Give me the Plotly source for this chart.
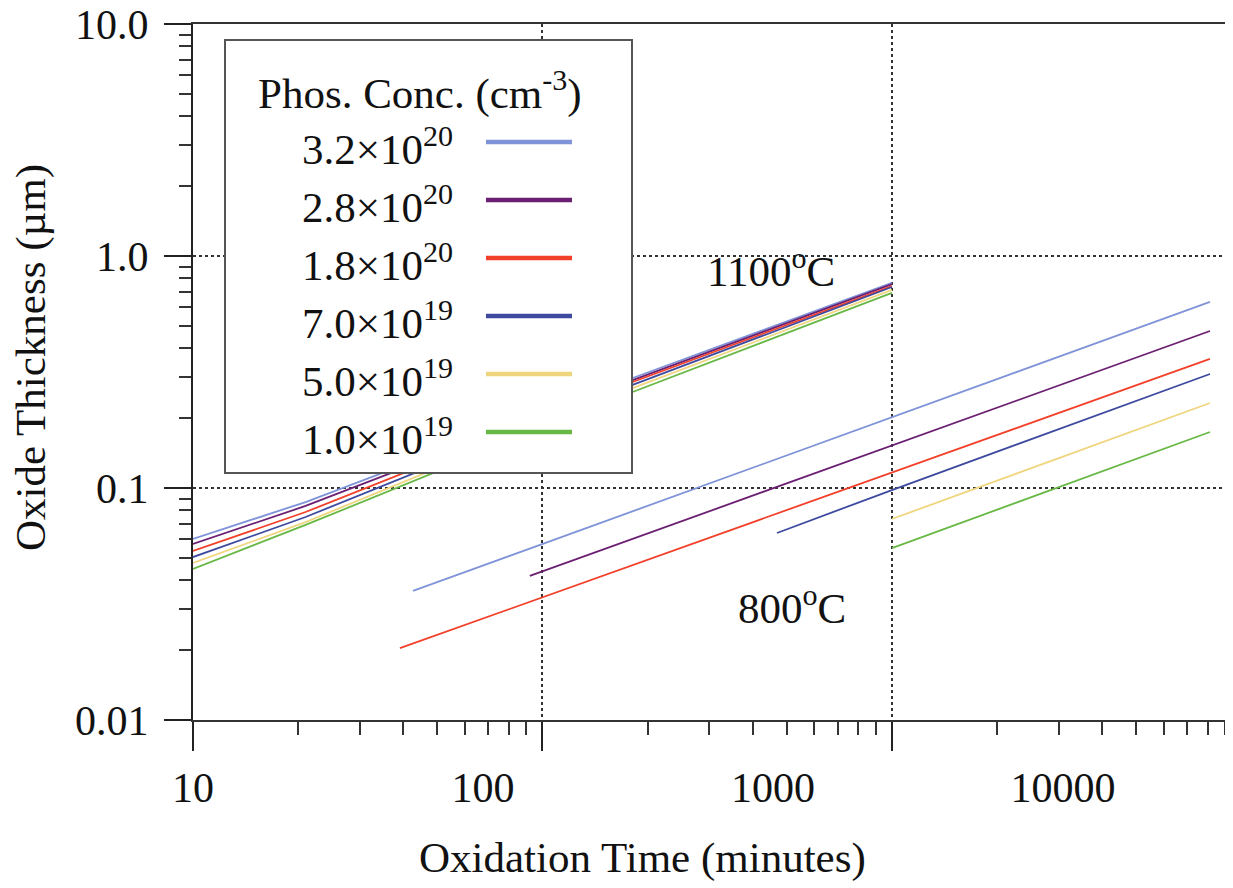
import plotly.graph_objects as go

# ---------------- data ----------------
series_names = ["3.2×10<sup>20</sup>", "2.8×10<sup>20</sup>", "1.8×10<sup>20</sup>",
                "7.0×10<sup>19</sup>", "5.0×10<sup>19</sup>", "1.0×10<sup>19</sup>"]
series_colors = ["#7f93d8", "#6b1f72", "#f2402a", "#3d4a9e", "#efd57e", "#67b845"]

# 1100 C curves (minutes, um)
t_1100 = [10, 21, 178, 1000]
th_1100_a = [0.0603, 0.0870, 0.295, 0.766]
th_1100_b = [0.0574, 0.0837, 0.289, 0.757]
th_1100_c = [0.0535, 0.0788, 0.2835, 0.742]
th_1100_d = [0.0504, 0.0750, 0.2753, 0.735]
th_1100_e = [0.0475, 0.0713, 0.267, 0.714]
th_1100_f = [0.0448, 0.0693, 0.2567, 0.694]

# 800 C curves
t_800_a = [42.6, 1000, 8130]
th_800_a = [0.036, 0.202, 0.634]
t_800_b = [92, 1000, 8130]
th_800_b = [0.0418, 0.152, 0.475]
t_800_c = [39.1, 1000, 8130]
th_800_c = [0.0204, 0.117, 0.360]
t_800_d = [469, 1000, 8130]
th_800_d = [0.064, 0.098, 0.310]
t_800_e = [1000, 3450, 8130]
th_800_e = [0.0735, 0.145, 0.2325]
t_800_f = [1000, 3450, 8130]
th_800_f = [0.0551, 0.109, 0.1743]

x_tick_vals = [10, 100, 1000]
x_label_vals = [10, 100, 1000, 10000]
x_label_text = ["10", "100", "1000", "10000"]
y_tick_vals = [0.01, 0.1, 1, 10]
y_tick_text = ["0.01", "0.1", "1.0", "10.0"]

legend_title = "Phos. Conc. (cm<sup>-3</sup>)"
label_1100 = "1100<sup>o</sup>C"
label_800 = "800<sup>o</sup>C"
x_title = "Oxidation Time (minutes)"
y_title = "Oxide Thickness (µm)"

FONT = "Liberation Serif"
FS = 43
FT = 42

fig = go.Figure()

curves_1100 = [th_1100_a, th_1100_b, th_1100_c, th_1100_d, th_1100_e, th_1100_f]
curves_800 = [(t_800_a, th_800_a), (t_800_b, th_800_b), (t_800_c, th_800_c),
              (t_800_d, th_800_d), (t_800_e, th_800_e), (t_800_f, th_800_f)]

for i in range(6):
    fig.add_trace(go.Scatter(x=t_1100, y=curves_1100[i], mode="lines",
                             line=dict(color=series_colors[i], width=1.8),
                             showlegend=False))
for i in range(6):
    tx, ty = curves_800[i]
    fig.add_trace(go.Scatter(x=tx, y=ty, mode="lines",
                             line=dict(color=series_colors[i], width=1.8),
                             showlegend=False))

# empty trace for the label axis
fig.add_trace(go.Scatter(x=[], y=[], xaxis="x2", showlegend=False))

minor_x = [k * 10 ** e for e in range(1, 4) for k in range(2, 10)]
minor_y = [k * 10 ** e for e in range(-2, 1) for k in range(2, 10)]

# the page body adds an 8 px offset; size the figure so the plot area lands
# at 193..1233 x 24..720 in the window
fig.update_layout(
    width=1225, height=880,
    margin=dict(l=185, r=0, t=16, b=168, autoexpand=False),
    paper_bgcolor="white", plot_bgcolor="white",
    font=dict(family=FONT, size=FS, color="#111"),
    showlegend=False,
    xaxis=dict(type="log", range=[1, 3.976], automargin=False,
               tickmode="array", tickvals=x_tick_vals, showticklabels=False,
               ticks="outside", ticklen=29, tickwidth=2, tickcolor="#222",
               minor=dict(tickmode="array", tickvals=minor_x, ticks="outside",
                          ticklen=13, tickwidth=2, tickcolor="#333", showgrid=False),
               showline=True, linecolor="#333", linewidth=2, mirror=True,
               showgrid=True, gridcolor="#333", griddash="dot", gridwidth=1.5,
               zeroline=False),
    xaxis2=dict(type="log", range=[1, 1 + 1040 / 290], overlaying="x", side="bottom",
                anchor="y", tickmode="array", tickvals=x_label_vals, ticktext=x_label_text,
                ticks="", showline=False, showgrid=False, zeroline=False, automargin=False,
                ticklabelstandoff=39, ticklabeloverflow="allow",
                tickfont=dict(family=FONT, size=FT, color="#111")),
    yaxis=dict(type="log", range=[-2, 1], automargin=False,
               tickmode="array", tickvals=y_tick_vals, ticktext=y_tick_text,
               ticks="outside", ticklen=27, tickwidth=2, tickcolor="#222",
               minor=dict(tickmode="array", tickvals=minor_y, ticks="outside",
                          ticklen=12, tickwidth=2, tickcolor="#333", showgrid=False),
               showline=True, linecolor="#222", linewidth=2,
               showgrid=True, gridcolor="#333", griddash="dot", gridwidth=1.5,
               zeroline=False, ticklabelstandoff=7, ticklabeloverflow="allow",
               tickfont=dict(family=FONT, size=FT, color="#111")),
)

# legend box drawn manually (text left, sample line right)
shapes = [dict(type="rect", xref="paper", yref="paper",
               x0=(225 - 193) / 1040, x1=(632 - 193) / 1040,
               y0=(720 - 473) / 696, y1=(720 - 40) / 696,
               fillcolor="white", line=dict(color="#555", width=2), layer="above")]
annotations = [dict(text=legend_title, xref="paper", yref="paper",
                    x=(420 - 193) / 1040, y=(720 - 90) / 696,
                    showarrow=False, xanchor="center", yanchor="middle",
                    font=dict(family=FONT, size=FS, color="#111"))]
for i in range(6):
    yc = 142 + 58 * i
    shapes.append(dict(type="line", xref="paper", yref="paper",
                       x0=(486 - 193) / 1040, x1=(572 - 193) / 1040,
                       y0=(720 - yc) / 696, y1=(720 - yc) / 696,
                       line=dict(color=series_colors[i], width=4.5), layer="above"))
    annotations.append(dict(text=series_names[i], xref="paper", yref="paper",
                            x=(300 - 193) / 1040, y=(720 - yc - 4) / 696,
                            showarrow=False, xanchor="left", yanchor="middle",
                            font=dict(family=FONT, size=FS, color="#111")))

annotations += [
    dict(text=label_1100, x=2.654, y=-0.052, xref="x", yref="y", showarrow=False,
         font=dict(family=FONT, size=FS, color="#111")),
    dict(text=label_800, x=2.714, y=-1.504, xref="x", yref="y", showarrow=False,
         font=dict(family=FONT, size=FS, color="#111")),
    dict(text=x_title, xref="paper", yref="paper", x=(642 - 193) / 1040,
         y=(720 - 858) / 696, showarrow=False, xanchor="center", yanchor="middle",
         font=dict(family=FONT, size=FS, color="#111")),
    dict(text=y_title, xref="paper", yref="paper", x=(31 - 193) / 1040,
         y=(720 - 358) / 696, showarrow=False, xanchor="center", yanchor="middle",
         textangle=-90, font=dict(family=FONT, size=FS, color="#111")),
]

fig.update_layout(shapes=shapes, annotations=annotations)
fig.write_html("out.html")
